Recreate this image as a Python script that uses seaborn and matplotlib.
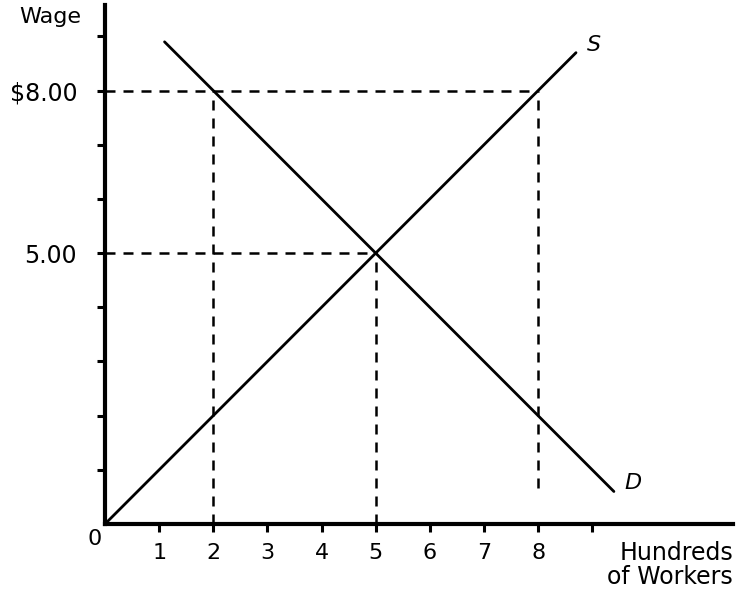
import matplotlib
matplotlib.use("Agg")
import matplotlib.pyplot as plt
import seaborn as sns
import pandas as pd

# Data
supply_q = [0.0, 8.7]
supply_w = [0.0, 8.7]
demand_q = [1.1, 9.4]
demand_w = [8.9, 0.6]
x_ticks = [1, 2, 3, 4, 5, 6, 7, 8, 9]
x_tick_labels = ["1", "2", "3", "4", "5", "6", "7", "8", ""]
y_ticks = [1, 2, 3, 4, 5, 6, 7, 8, 9]
y_tick_labels = ["", "", "", "", "5.00", "", "", "$8.00", ""]
# reference dashed lines: (x0, x1, y0, y1)
h_refs = [(0, 8, 8, 8), (0, 5, 5, 5)]
v_refs = [(2, 2, 0, 8), (5, 5, 0, 5), (8, 8, 0.66, 8)]

sns.set_style("ticks")
plt.rcParams['font.family'] = ['DejaVu Sans']
plt.rcParams['text.color'] = 'black'
plt.rcParams['xtick.color'] = 'black'
plt.rcParams['ytick.color'] = 'black'

fig = plt.figure(figsize=(7.37, 5.97), dpi=100)
ax = fig.add_axes([105/737, 73/597, 628/737, 519/597])

df_s = pd.DataFrame({"q": supply_q, "w": supply_w})
df_d = pd.DataFrame({"q": demand_q, "w": demand_w})
sns.lineplot(data=df_s, x="q", y="w", ax=ax, color="black", linewidth=2.0, sort=False)
sns.lineplot(data=df_d, x="q", y="w", ax=ax, color="black", linewidth=2.0, sort=False)

for x0, x1, y0, y1 in h_refs + v_refs:
    ax.plot([x0, x1], [y0, y1], color="black", linewidth=1.8,
            dashes=(4, 3.2), clip_on=False)

ax.set_xlim(0, 11.6)
ax.set_ylim(0, 9.58)
ax.set_xticks(x_ticks)
ax.set_xticklabels(x_tick_labels, fontsize=16)
ax.set_yticks(y_ticks)
ax.set_yticklabels(y_tick_labels, fontsize=17)
ax.tick_params(axis="both", direction="out", length=6, width=2.2,
               color="black", labelcolor="black", bottom=True, left=True)
ax.tick_params(axis="x", pad=8)
ax.tick_params(axis="y", pad=14)
ax.set_xlabel("")
ax.set_ylabel("")

for side in ["top", "right"]:
    ax.spines[side].set_visible(False)
for side in ["left", "bottom"]:
    ax.spines[side].set_linewidth(3)
    ax.spines[side].set_color("black")

ax.text(-0.2, -0.28, "0", fontsize=16, ha="center", va="center")
fig.text(50/737, 1 - 17/597, "Wage", fontsize=16, ha="center", va="center")
fig.text(733/737, 1 - 565/597, "Hundreds\nof Workers", fontsize=17,
         ha="right", va="center", linespacing=1.05)
ax.text(8.9, 8.85, "S", fontsize=16, style="italic", ha="left", va="center")
ax.text(9.6, 0.75, "D", fontsize=16, style="italic", ha="left", va="center")

fig.savefig("out.png", dpi=100, facecolor="white")
